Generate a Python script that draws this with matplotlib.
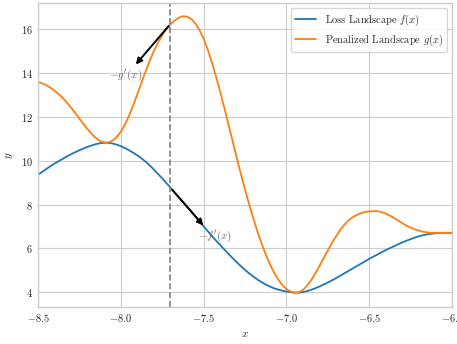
import matplotlib
matplotlib.use("Agg")
import matplotlib.pyplot as plt

# valeurs (pas de 0.025 de -8.5 a -6.0)
x = [-8.500 + 0.025 * i for i in range(101)]
f = [9.36, 9.49, 9.62, 9.75, 9.87, 9.98, 10.09, 10.20, 10.30, 10.39,
     10.48, 10.56, 10.64, 10.70, 10.76, 10.80, 10.82, 10.82, 10.79, 10.74,
     10.67, 10.58, 10.48, 10.37, 10.25, 10.11, 9.96, 9.79, 9.60, 9.40,
     9.20, 8.99, 8.77, 8.56, 8.34, 8.13, 7.91, 7.69, 7.46, 7.24,
     7.01, 6.79, 6.57, 6.36, 6.16, 5.95, 5.75, 5.56, 5.37, 5.19,
     5.02, 4.86, 4.72, 4.58, 4.46, 4.35, 4.26, 4.18, 4.12, 4.07,
     4.03, 4.00, 3.98, 3.98, 4.00, 4.05, 4.11, 4.18, 4.26, 4.35,
     4.44, 4.54, 4.64, 4.75, 4.86, 4.97, 5.08, 5.19, 5.30, 5.41,
     5.52, 5.62, 5.72, 5.82, 5.92, 6.01, 6.10, 6.19, 6.27, 6.35,
     6.42, 6.49, 6.55, 6.60, 6.64, 6.67, 6.69, 6.70, 6.71, 6.71,
     6.71]
g = [13.60, 13.54, 13.45, 13.34, 13.20, 13.05, 12.87, 12.66, 12.43, 12.18,
     11.93, 11.68, 11.44, 11.22, 11.04, 10.90, 10.84, 10.84, 10.92, 11.08,
     11.32, 11.65, 12.05, 12.52, 13.03, 13.56, 14.08, 14.57, 15.01, 15.40,
     15.73, 16.01, 16.23, 16.40, 16.53, 16.60, 16.58, 16.48, 16.28, 15.98,
     15.58, 15.08, 14.50, 13.86, 13.16, 12.43, 11.67, 10.91, 10.15, 9.41,
     8.70, 8.02, 7.38, 6.78, 6.23, 5.73, 5.29, 4.91, 4.59, 4.33,
     4.15, 4.03, 3.98, 3.99, 4.10, 4.29, 4.55, 4.86, 5.20, 5.55,
     5.90, 6.24, 6.55, 6.84, 7.08, 7.27, 7.42, 7.53, 7.61, 7.66,
     7.69, 7.70, 7.70, 7.66, 7.59, 7.50, 7.39, 7.27, 7.15, 7.04,
     6.95, 6.87, 6.81, 6.76, 6.73, 6.71, 6.71, 6.71, 6.71, 6.71,
     6.71]

x0 = -7.70
f_tail, f_head = (x0, 8.77), (-7.49, 6.95)
g_tail, g_head = (x0, 16.25), (-7.92, 14.3)

plt.style.use("seaborn-v0_8-whitegrid")
plt.rcParams["font.family"] = "serif"
plt.rcParams["font.serif"] = ["cmr10"]
plt.rcParams["mathtext.fontset"] = "cm"
plt.rcParams["axes.formatter.use_mathtext"] = True

fig = plt.figure(figsize=(4.57, 3.44), dpi=100)
ax = fig.add_axes([0.083, 0.108, 0.906, 0.883])

ax.plot(x, f, color="#1f77b4", lw=1.3, label="Loss Landscape $f(x)$")
ax.plot(x, g, color="#ff7f0e", lw=1.3, label="Penalized Landscape $g(x)$")
ax.axvline(x0, color="grey", linestyle="--", lw=1.2)

ax.annotate("", xy=f_head, xytext=f_tail,
            arrowprops=dict(arrowstyle="-|>", color="black", lw=1.4, mutation_scale=9))
ax.annotate("", xy=g_head, xytext=g_tail,
            arrowprops=dict(arrowstyle="-|>", color="black", lw=1.4, mutation_scale=9))
ax.text(-7.43, 6.55, "$-f'(x)$", color="dimgray", fontsize=8, ha="center", va="center")
ax.text(-7.97, 13.9, "$-g'(x)$", color="dimgray", fontsize=8, ha="center", va="center")

ax.set_xlim(-8.5, -6.0)
ax.set_ylim(3.33, 17.2)
ax.set_xlabel("$x$", fontsize=8)
ax.set_ylabel("$y$", fontsize=8)
ax.tick_params(labelsize=7.5)
ax.legend(loc="upper right", frameon=True, fontsize=7.5)

fig.savefig("out.png", dpi=100)
